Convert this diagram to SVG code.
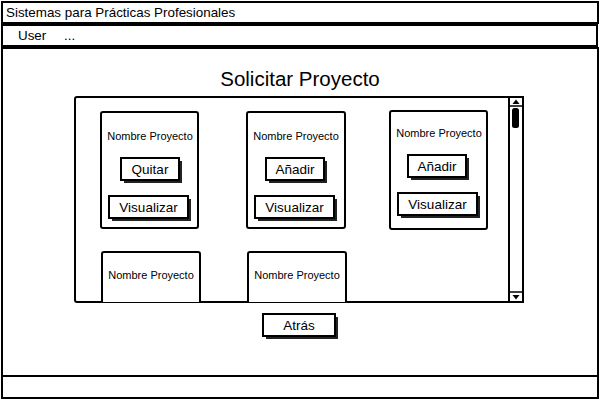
<svg xmlns="http://www.w3.org/2000/svg" width="600" height="400" viewBox="0 0 600 400">
<style>
.ln{fill:#fff;stroke:#000;stroke-width:2}
.sh{fill:#222;stroke:none}
.t{font-family:"Liberation Sans",Arial,sans-serif;fill:#000}
.bt{font-family:"Liberation Sans",Arial,sans-serif;font-size:13.5px;text-anchor:middle;fill:#000}
.ct{font-family:"Liberation Sans",Arial,sans-serif;font-size:11px;text-anchor:middle;fill:#000}
</style>
<defs>
<g id="btnshadow"></g>
</defs>
<rect width="600" height="400" fill="#fff"/>
<g id="window">
<rect class="ln" x="2" y="48" width="596" height="350"/>
<line x1="2" y1="376" x2="598" y2="376" stroke="#000" stroke-width="2"/>
</g>
<g id="titlebar">
<rect class="ln" x="2" y="2" width="596" height="21"/>
<text class="t" x="6" y="17" font-size="13.4">Sistemas para Prácticas Profesionales</text>
</g>
<g id="menubar">
<rect class="ln" x="2" y="25" width="595" height="21"/>
<text class="t" x="18" y="40" font-size="13.4">User</text>
<text class="t" x="64" y="40" font-size="13.4">...</text>
</g>
<g id="heading">
<text class="t" x="300" y="86" font-size="20.5" text-anchor="middle">Solicitar Proyecto</text>
</g>
<g id="panel">
<rect class="ln" x="75" y="97" width="448" height="205" rx="2"/>
<rect class="ln" x="509" y="97" width="14" height="205"/>
<line x1="509" y1="106" x2="523" y2="106" stroke="#000" stroke-width="1.5"/>
<polygon points="512.5,104 516,99.5 519.5,104" fill="#000"/>
<rect x="512" y="108" width="7" height="20" rx="2.5" fill="#000"/>
<line x1="509" y1="292" x2="523" y2="292" stroke="#000" stroke-width="1.5"/>
<polygon points="512.5,295 516,299.5 519.5,295" fill="#000"/>
</g>
<g id="card1">
<rect class="ln" x="101" y="112" width="97" height="116" rx="2"/>
<text class="ct" x="150" y="140">Nombre Proyecto</text>
<rect class="sh" x="124" y="161" width="58" height="22"/>
<rect class="ln" x="121" y="158" width="58" height="22"/>
<text class="bt" x="150" y="174">Quitar</text>
<rect class="sh" x="112" y="199" width="79" height="22"/>
<rect class="ln" x="109" y="196" width="79" height="22"/>
<text class="bt" x="148.5" y="212">Visualizar</text>
</g>
<g id="card2">
<rect class="ln" x="247" y="112" width="98" height="116" rx="2"/>
<text class="ct" x="296" y="140">Nombre Proyecto</text>
<rect class="sh" x="269" y="161" width="58" height="22"/>
<rect class="ln" x="266" y="158" width="58" height="22"/>
<text class="bt" x="295" y="174">Añadir</text>
<rect class="sh" x="258" y="199" width="79" height="22"/>
<rect class="ln" x="255" y="196" width="79" height="22"/>
<text class="bt" x="294.5" y="212">Visualizar</text>
</g>
<g id="card3">
<rect class="ln" x="390" y="111" width="97" height="118" rx="2"/>
<text class="ct" x="439" y="137">Nombre Proyecto</text>
<rect class="sh" x="411" y="158" width="58" height="22"/>
<rect class="ln" x="408" y="155" width="58" height="22"/>
<text class="bt" x="437" y="171">Añadir</text>
<rect class="sh" x="401" y="196" width="79" height="22"/>
<rect class="ln" x="398" y="193" width="79" height="22"/>
<text class="bt" x="437.5" y="209">Visualizar</text>
</g>
<g id="card4">
<path class="ln" d="M102,302 V254 Q102,252 104,252 H198 Q200,252 200,254 V302"/>
<text class="ct" x="151" y="279">Nombre Proyecto</text>
</g>
<g id="card5">
<path class="ln" d="M248,302 V254 Q248,252 250,252 H344 Q346,252 346,254 V302"/>
<text class="ct" x="297" y="279">Nombre Proyecto</text>
</g>
<g id="atras">
<rect class="sh" x="266" y="317" width="72" height="22"/>
<rect class="ln" x="263" y="314" width="72" height="22"/>
<text class="bt" x="299" y="330">Atrás</text>
</g>
<g id="connectors"></g>
</svg>
